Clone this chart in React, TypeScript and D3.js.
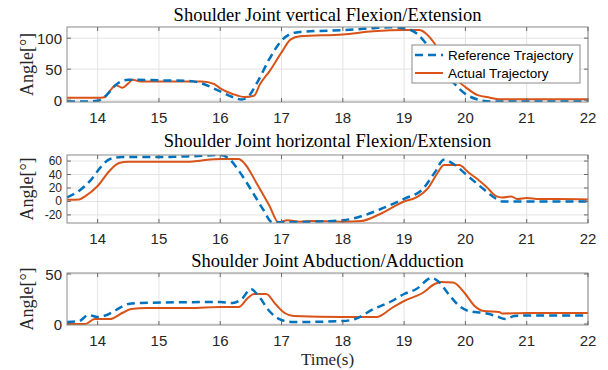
import React from 'react';
import * as d3 from 'd3';

// [time (s), angle (deg)]
const vertRef: [number, number][] = [
  [13.5, -2], [13.85, -2], [14.0, -1], [14.1, 4], [14.2, 14], [14.3, 25], [14.4, 31], [14.5, 33],
  [15.0, 32], [15.5, 31], [15.7, 27], [16.0, 14], [16.2, 5], [16.35, 1], [16.45, 5], [16.6, 28],
  [16.8, 66], [17.0, 96], [17.15, 107], [17.3, 110], [18.0, 113], [18.5, 116], [18.75, 117.5],
  [19.0, 116], [19.2, 108], [19.4, 86], [19.6, 57], [19.8, 29], [20.0, 10], [20.2, 1], [20.4, -2], [22, -2],
];
const vertAct: [number, number][] = [
  [13.5, 4], [14.05, 4], [14.12, 5], [14.2, 15], [14.3, 24], [14.4, 20], [14.5, 27], [14.57, 33],
  [14.7, 30], [15.0, 30], [15.7, 30], [15.9, 26], [16.0, 19], [16.2, 10], [16.4, 5], [16.55, 7],
  [16.65, 26], [16.8, 46], [17.0, 77], [17.15, 98], [17.3, 103], [18.0, 106], [18.5, 111], [19.0, 113],
  [19.25, 113], [19.35, 108], [19.5, 91], [19.7, 58], [19.9, 29], [20.0, 21], [20.2, 8], [20.4, 4],
  [20.55, 1.5], [22, 1.5],
];

const horRef: [number, number][] = [
  [13.5, 6], [13.7, 16], [13.9, 33], [14.05, 51], [14.2, 63], [14.4, 66], [15.0, 66], [15.5, 67],
  [16.0, 69], [16.15, 63], [16.3, 46], [16.5, 18], [16.7, -12], [16.85, -31], [17.0, -31], [17.5, -30],
  [18.0, -28], [18.3, -22], [18.6, -12], [19.0, 4], [19.3, 18], [19.5, 43], [19.65, 62], [19.8, 56],
  [20.0, 41], [20.3, 18], [20.5, 4], [20.6, 0], [22, 0],
];
const horAct: [number, number][] = [
  [13.5, 2.5], [13.7, 3], [13.8, 8], [14.0, 23], [14.2, 46], [14.35, 57], [14.5, 59], [15.5, 59],
  [15.7, 61], [16.0, 63], [16.3, 63], [16.4, 56], [16.6, 26], [16.8, -6], [16.95, -31], [17.1, -28],
  [17.3, -30], [17.5, -29], [18.0, -30], [18.3, -29], [18.6, -19], [19.0, 0], [19.2, 6], [19.4, 21],
  [19.55, 43], [19.65, 54], [19.9, 54], [20.05, 43], [20.2, 33], [20.35, 21], [20.5, 8], [20.6, 6],
  [20.75, 7.5], [20.85, 3.5], [21.0, 5], [21.2, 3.5], [21.5, 3.5], [22, 3],
];

const abdRef: [number, number][] = [
  [13.5, 2], [13.7, 3], [13.85, 9], [14.0, 7], [14.15, 9], [14.3, 14], [14.5, 20], [14.7, 21],
  [16.0, 22], [16.2, 21], [16.35, 25], [16.5, 35], [16.6, 30], [16.8, 13], [17.0, 4], [17.2, 2],
  [18.0, 3], [18.2, 5], [18.5, 15], [18.8, 23], [19.0, 30], [19.2, 35], [19.45, 46], [19.55, 43],
  [19.75, 28], [19.9, 18], [20.05, 13], [20.3, 11], [20.5, 8], [20.65, 5], [20.8, 8], [21.0, 8.5], [22, 8.5],
];
const abdAct: [number, number][] = [
  [13.5, 0], [13.8, 0], [13.95, 5], [14.2, 5], [14.4, 11], [14.55, 15], [14.8, 16], [15.5, 16],
  [16.0, 17], [16.3, 17], [16.45, 26], [16.55, 30], [16.75, 30], [16.9, 20], [17.05, 11], [17.2, 8],
  [18.0, 7], [18.55, 7], [18.8, 16], [19.0, 23], [19.3, 31], [19.5, 40], [19.6, 42], [19.8, 41.5],
  [20.0, 30], [20.15, 18], [20.3, 13], [20.55, 12], [20.6, 10.5], [21.0, 11], [22, 11],
];

const xTicks = [14, 15, 16, 17, 18, 19, 20, 21, 22];
const vertTicks = [0, 50, 100];
const horTicks = [-20, 0, 20, 40, 60];
const abdTicks = [0, 50];

const titles = [
  'Shoulder Joint vertical Flexion/Extension',
  'Shoulder Joint horizontal Flexion/Extension',
  'Shoulder Joint Abduction/Adduction',
];

const BLUE = '#0072BD';
const ORANGE = '#D95319';
const SERIF = '"Liberation Serif", "Times New Roman", serif';
const SANS = '"Liberation Sans", Arial, sans-serif';

const left = 67;
const right = 588;

const panels = [
  { title: titles[0], ref: vertRef, act: vertAct, ticks: vertTicks, domain: [-3, 118], top: 27, bottom: 102, titleY: 15, tickSize: 15 },
  { title: titles[1], ref: horRef, act: horAct, ticks: horTicks, domain: [-32, 69], top: 155, bottom: 223, titleY: 141, tickSize: 12 },
  { title: titles[2], ref: abdRef, act: abdAct, ticks: abdTicks, domain: [-1, 51], top: 273, bottom: 325, titleY: 261, tickSize: 15 },
];

const x = d3.scaleLinear().domain([13.5, 22]).range([left, right]);

function Panel({ p, idx }: { p: typeof panels[number]; idx: number }) {
  const y = d3.scaleLinear().domain(p.domain).range([p.bottom, p.top]);
  const line = d3.line<[number, number]>()
    .x(d => x(d[0]))
    .y(d => y(d[1]))
    .curve(d3.curveMonotoneX);
  const clipId = `clip${idx}`;
  const midY = (p.top + p.bottom) / 2;
  return (
    <g>
      <defs>
        <clipPath id={clipId}>
          <rect x={left} y={p.top} width={right - left} height={p.bottom - p.top} />
        </clipPath>
      </defs>
      {xTicks.map(t => (
        <line key={'gx' + t} x1={x(t)} x2={x(t)} y1={p.top} y2={p.bottom} stroke="#e3e3e3" strokeWidth={1} />
      ))}
      {p.ticks.map(t => (
        <line key={'gy' + t} x1={left} x2={right} y1={y(t)} y2={y(t)} stroke="#e3e3e3" strokeWidth={1} />
      ))}
      <g clipPath={`url(#${clipId})`}>
        <path d={line(p.act) || ''} fill="none" stroke={ORANGE} strokeWidth={2} />
        <path d={line(p.ref) || ''} fill="none" stroke={BLUE} strokeWidth={2.5} strokeDasharray="8,5" />
      </g>
      <rect x={left} y={p.top} width={right - left} height={p.bottom - p.top} fill="none" stroke="#8a8a8a" strokeWidth={1} />
      {xTicks.map(t => (
        <g key={'tx' + t}>
          <line x1={x(t)} x2={x(t)} y1={p.bottom} y2={p.bottom - 4} stroke="#6a6a6a" />
          <line x1={x(t)} x2={x(t)} y1={p.top} y2={p.top + 4} stroke="#6a6a6a" />
          <text x={x(t)} y={p.bottom + 15} textAnchor="middle" dominantBaseline="central"
            fontFamily={SANS} fontSize={15} fill="#262626">{t}</text>
        </g>
      ))}
      {p.ticks.map(t => (
        <g key={'ty' + t}>
          <line x1={left} x2={left + 4} y1={y(t)} y2={y(t)} stroke="#6a6a6a" />
          <line x1={right} x2={right - 4} y1={y(t)} y2={y(t)} stroke="#6a6a6a" />
          <text x={left - 5} y={y(t)} textAnchor="end" dominantBaseline="central"
            fontFamily={SANS} fontSize={p.tickSize} fill="#262626">{t}</text>
        </g>
      ))}
      <text x={(left + right) / 2} y={p.titleY} textAnchor="middle" dominantBaseline="central"
        fontFamily={SERIF} fontSize={18.5} fill="#000">{p.title}</text>
      <text transform={`translate(27,${midY}) rotate(-90)`} textAnchor="middle" dominantBaseline="central"
        fontFamily={SERIF} fontSize={18} fill="#262626">Angle[°]</text>
    </g>
  );
}

export default function App() {
  return (
    <svg width={608} height={370} style={{ position: 'absolute', left: 0, top: 0, background: '#fff' }}>
      <rect width={608} height={370} fill="#fff" />
      {panels.map((p, i) => <Panel key={i} p={p} idx={i} />)}
      <g>
        <rect x={412} y={45} width={168} height={38} fill="#fff" stroke="#8a8a8a" strokeWidth={1} />
        <line x1={415} x2={443} y1={55} y2={55} stroke={BLUE} strokeWidth={2.5} strokeDasharray="8,5" />
        <text x={448} y={55} dominantBaseline="central" fontFamily={SANS} fontSize={13.5} fill="#000">Reference Trajectory</text>
        <line x1={415} x2={443} y1={73} y2={73} stroke={ORANGE} strokeWidth={2} />
        <text x={448} y={73} dominantBaseline="central" fontFamily={SANS} fontSize={13.5} fill="#000">Actual Trajectory</text>
      </g>
      <text x={(left + right) / 2} y={359} textAnchor="middle" dominantBaseline="central"
        fontFamily={SERIF} fontSize={17} fill="#262626">Time(s)</text>
    </svg>
  );
}
